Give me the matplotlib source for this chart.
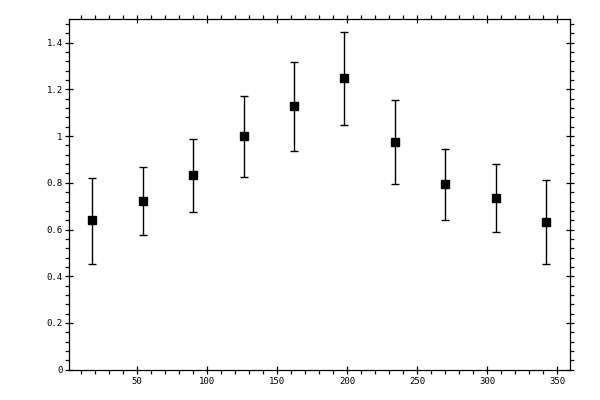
import numpy as np
import matplotlib
matplotlib.use('Agg')
import matplotlib.pyplot as plt
from matplotlib.ticker import MultipleLocator, FormatStrFormatter


# bin centres (degrees) and measured values
angle = [18, 54, 90, 126, 162, 198, 234, 270, 306, 342]
value = [0.640, 0.721, 0.832, 0.999, 1.128, 1.247, 0.973, 0.794, 0.734, 0.631]
err_low = [0.451, 0.575, 0.674, 0.824, 0.935, 1.046, 0.794, 0.640, 0.588, 0.451]
err_high = [0.822, 0.866, 0.986, 1.173, 1.319, 1.447, 1.153, 0.946, 0.879, 0.811]

xticks = [50, 100, 150, 200, 250, 300, 350]
yticks = [0, 0.2, 0.4, 0.6, 0.8, 1, 1.2, 1.4]

yerr = [np.array(value) - np.array(err_low), np.array(err_high) - np.array(value)]

fig = plt.figure(figsize=(6, 4), dpi=100)
ax = fig.add_axes([0.1158, 0.0757, 0.8347, 0.876])

ax.errorbar(angle, value, yerr=yerr, fmt='s', color='black', ms=5.2,
            elinewidth=1.0, capsize=2.6, capthick=1.0)

ax.set_xlim(1.6, 359.3)
ax.set_ylim(0, 1.5)

ax.set_xticks(xticks)
ax.set_yticks(yticks)
ax.set_yticklabels(['0', '0.2', '0.4', '0.6', '0.8', '1', '1.2', '1.4'])
ax.xaxis.set_minor_locator(MultipleLocator(10))
ax.yaxis.set_minor_locator(MultipleLocator(0.04))

for s in ax.spines.values():
    s.set_linewidth(0.9)

ax.tick_params(which='major', direction='inout', length=6, width=0.9,
               top=True, right=True, labelsize=6.5, pad=2)
ax.tick_params(which='minor', direction='out', length=2.6, width=0.9,
               top=True, right=True)
for lab in ax.get_xticklabels() + ax.get_yticklabels():
    lab.set_family('DejaVu Sans Mono')

plt.savefig('out.png', dpi=100)
